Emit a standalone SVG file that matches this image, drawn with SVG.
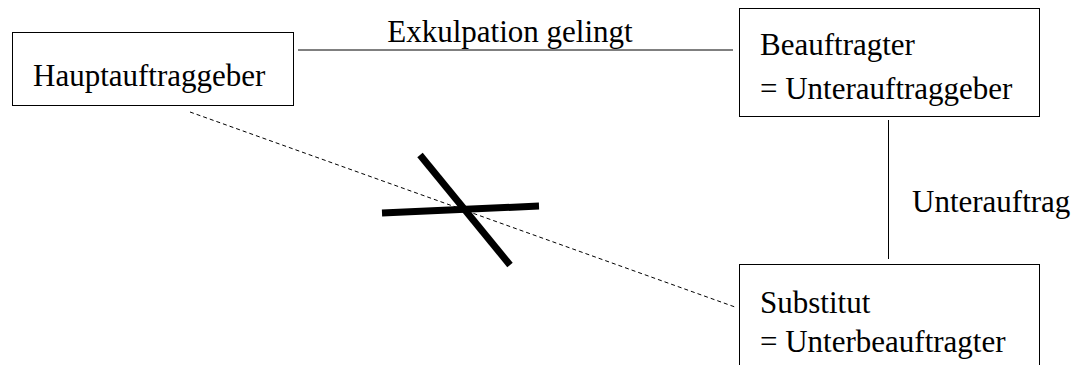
<svg xmlns="http://www.w3.org/2000/svg" width="1077" height="365" viewBox="0 0 1077 365">
<style>
.box{fill:#fff;stroke:#000;stroke-width:1}
.t{font-family:"Liberation Serif","Times New Roman",serif;font-size:31px;fill:#000}
.ln{stroke:#000;stroke-width:1;fill:none}
.dash{stroke:#000;stroke-width:1;stroke-dasharray:4,3;fill:none}
.x{stroke:#000;stroke-width:7;fill:none}
</style>
<rect width="1077" height="365" fill="#fff"/>
<g id="connectors">
<line class="ln" x1="298" y1="50" x2="733" y2="50"/>
<text class="t" x="510" y="42" text-anchor="middle">Exkulpation gelingt</text>
<line class="ln" x1="888.5" y1="120" x2="888.5" y2="259"/>
<text class="t" x="912" y="212">Unterauftrag</text>
<line class="dash" x1="190" y1="112" x2="735" y2="307"/>
<line class="x" x1="420" y1="155" x2="510" y2="265"/>
<line class="x" x1="382" y1="213" x2="539" y2="206"/>
</g>
<g id="hauptauftraggeber">
<rect class="box" x="12.5" y="32.5" width="281" height="73"/>
<text class="t" x="33" y="86">Hauptauftraggeber</text>
</g>
<g id="beauftragter">
<rect class="box" x="739.5" y="8.5" width="300" height="108"/>
<text class="t" x="760" y="55">Beauftragter</text>
<text class="t" x="760" y="99">= Unterauftraggeber</text>
</g>
<g id="substitut">
<rect class="box" x="739.5" y="264.5" width="300" height="110"/>
<text class="t" x="760" y="313">Substitut</text>
<text class="t" x="760" y="352">= Unterbeauftragter</text>
</g>
</svg>
